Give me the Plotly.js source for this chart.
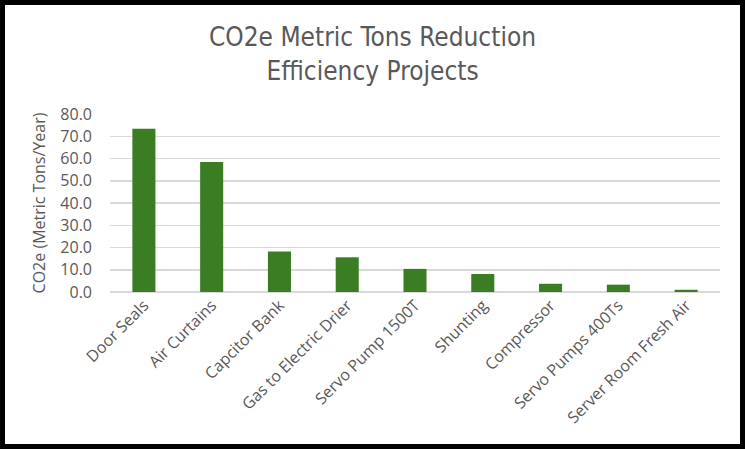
<!DOCTYPE html>
<html>
<head>
<meta charset="utf-8">
<script src="https://cdn.plot.ly/plotly-3.0.1.min.js"></script>
<style>
html,body{margin:0;padding:0;background:#fff;}
#chart{position:absolute;left:0;top:0;width:745px;height:449px;}
#frame{position:absolute;left:0;top:0;width:745px;height:449px;box-sizing:border-box;border:5px solid #000;pointer-events:none;}
</style>
</head>
<body>
<div id="chart"></div>
<div id="frame"></div>
<script>
const categories = ["Door Seals","Air Curtains","Capcitor Bank","Gas to Electric Drier","Servo Pump 1500T","Shunting","Compressor","Servo Pumps 400Ts","Server Room Fresh Air"];
const reductions = [73.4, 58.4, 18.2, 15.6, 10.4, 8.1, 3.7, 3.3, 1.0];
const yTickVals = [0,10,20,30,40,50,60,70,80];
const yTickText = ["0.0","10.0","20.0","30.0","40.0","50.0","60.0","70.0","80.0"];

const gray = "#595959";
const trace = {
  type: "bar",
  x: categories,
  y: reductions,
  marker: {color: "#3a7d22", line: {width: 0}},
  hoverinfo: "x+y"
};
const layout = {
  width: 745, height: 449,
  margin: {l: 110, r: 25, t: 114, b: 157},
  paper_bgcolor: "#fff", plot_bgcolor: "#fff",
  bargap: 0.66,
  showlegend: false,
  title: {
    text: "CO2e Metric Tons Reduction<br>Efficiency Projects",
    font: {family: "Liberation Sans Narrow, DejaVu Sans Condensed, Roboto, sans-serif", size: 26, color: gray},
    x: 0.5, xanchor: "center", xref: "container",
    yref: "container", y: 0.897, yanchor: "middle"
  },
  xaxis: {
    type: "category",
    tickangle: -45,
    tickfont: {family: "Open Sans, Roboto, sans-serif", size: 16, color: gray},
    showgrid: false, zeroline: false,
    showline: false, ticks: "", automargin: false
  },
  yaxis: {
    range: [0, 80],
    tickvals: yTickVals, ticktext: yTickText,
    tickfont: {family: "Open Sans, Roboto, sans-serif", size: 16, color: gray},
    ticklabelstandoff: 17,
    gridcolor: "#d9d9d9", gridwidth: 1.5,
    zeroline: true, zerolinecolor: "#d9d9d9", zerolinewidth: 1.5,
    ticks: "", ticklen: 0, automargin: false,
    title: {text: "CO2e (Metric Tons/Year)", font: {family: "Open Sans, Roboto, sans-serif", size: 16, color: gray}, standoff: 10}
  }
};
Plotly.newPlot("chart", [trace], layout, {displayModeBar: false, staticPlot: true});
</script>
</body>
</html>
